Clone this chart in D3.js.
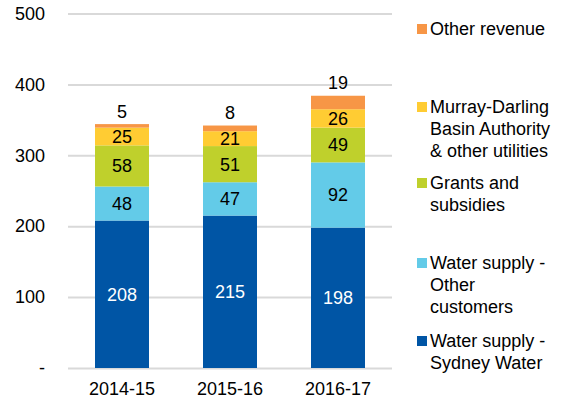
<!DOCTYPE html>
<html><head><meta charset="utf-8">
<script src="https://cdn.jsdelivr.net/npm/d3@7"></script>
<style>body{margin:0;background:#fff}svg{display:block;font-family:"Liberation Sans",Arial,sans-serif}</style>
</head><body><svg id="c" width="564" height="403"></svg>
<script>
const years = ["2014-15","2015-16","2016-17"];
const sydneyWater = [208,215,198];
const otherCustomers = [48,47,92];
const grants = [58,51,49];
const murrayDarling = [25,21,26];
const otherRevenue = [5,8,19];
const seriesNames = ["Water supply - Sydney Water","Water supply - Other customers","Grants and subsidies","Murray-Darling Basin Authority & other utilities","Other revenue"];
const seriesValues = [sydneyWater, otherCustomers, grants, murrayDarling, otherRevenue];
const colors = ["#0055A5","#63CBE8","#BFD02C","#FFCC33","#F79646"];
const yTicks = [0,100,200,300,400,500];
const legendLines = [["Other revenue"],["Murray-Darling","Basin Authority","& other utilities"],["Grants and","subsidies"],["Water supply -","Other","customers"],["Water supply -","Sydney Water"]];

const FS = 18;
const svg = d3.select("#c");
const x = d3.scaleBand().domain(years).range([68,392]).paddingInner(0.5).paddingOuter(0.25);
const y = d3.scaleLinear().domain([0,500]).range([368,13.5]);

const yAxis = svg.append("g").attr("transform","translate(68,0)")
  .call(d3.axisLeft(y).tickValues(yTicks).tickSize(-324).tickFormat(d=>d===0?"-":d));
yAxis.select(".domain").remove();
yAxis.selectAll(".tick line").attr("stroke","#D9D9D9").attr("stroke-width",2);
yAxis.selectAll(".tick text").attr("x",-23).attr("font-size",FS).attr("fill","#000").attr("font-family","Liberation Sans, Arial, sans-serif");

const xAxis = svg.append("g").attr("transform","translate(0,368)")
  .call(d3.axisBottom(x).tickSize(0));
xAxis.select(".domain").remove();
xAxis.selectAll(".tick text").attr("dy",0).attr("y",27).attr("font-size",FS).attr("fill","#000").attr("font-family","Liberation Sans, Arial, sans-serif");

const data = years.map((yr,i)=>{const o={year:yr}; seriesValues.forEach((s,k)=>o["s"+k]=s[i]); return o;});
const stack = d3.stack().keys(seriesValues.map((s,k)=>"s"+k))(data);

stack.forEach((layer,k)=>{
  const g = svg.append("g");
  g.selectAll("rect").data(layer).join("rect")
    .attr("x",d=>x(d.data.year)).attr("width",x.bandwidth())
    .attr("y",d=>y(d[1])).attr("height",d=>y(d[0])-y(d[1]))
    .attr("fill",colors[k]);
  g.selectAll("text").data(layer).join("text")
    .attr("x",d=>x(d.data.year)+x.bandwidth()/2)
    .attr("y",d=> k===4 ? y(d[1])-13 : (y(d[0])+y(d[1]))/2)
    .attr("dy","0.36em").attr("text-anchor","middle").attr("font-size",FS)
    .attr("fill",k===0?"#fff":"#000")
    .text(d=>d[1]-d[0]);
});

const legendY = [29,107,183,263,341];
legendLines.forEach((lines,i)=>{
  const ci = 4-i;
  svg.append("rect").attr("x",417).attr("y",legendY[i]-5).attr("width",10).attr("height",10).attr("fill",colors[ci]);
  lines.forEach((t,j)=>{
    svg.append("text").attr("x",430).attr("y",legendY[i]+j*21.7).attr("dy","0.36em")
      .attr("font-size",FS).attr("fill","#000").text(t);
  });
});
</script></body></html>
